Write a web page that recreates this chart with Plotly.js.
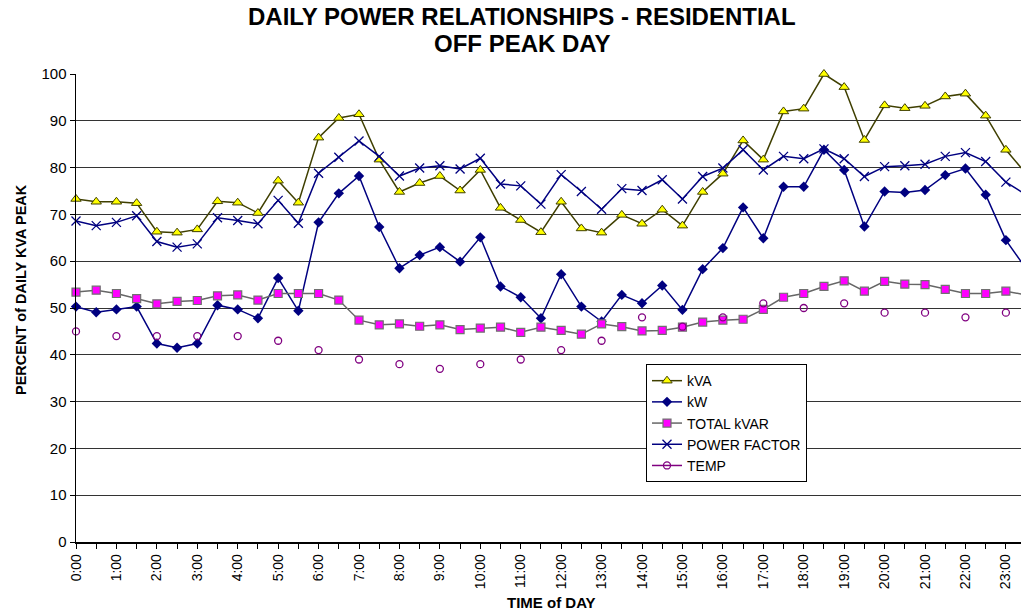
<!DOCTYPE html>
<html>
<head>
<meta charset="utf-8">
<script src="https://cdn.plot.ly/plotly-3.0.1.min.js"></script>
<style>html,body{margin:0;padding:0;background:#fff;}#chart{width:1021px;height:611px;}</style>
</head>
<body>
<div id="chart"></div>
<script>
// Half-hour time slots, 0:00 .. 23:30
const timeLabels = ["0:00","0:30","1:00","1:30","2:00","2:30","3:00","3:30","4:00","4:30","5:00","5:30",
  "6:00","6:30","7:00","7:30","8:00","8:30","9:00","9:30","10:00","10:30","11:00","11:30",
  "12:00","12:30","13:00","13:30","14:00","14:30","15:00","15:30","16:00","16:30","17:00","17:30",
  "18:00","18:30","19:00","19:30","20:00","20:30","21:00","21:30","22:00","22:30","23:00","23:30"];

const kVA = [73.3,72.7,72.7,72.4,66.3,66.1,66.8,72.8,72.5,70.3,77.2,72.5,
  86.4,90.6,91.4,81.7,74.8,76.7,78.2,75.1,79.5,71.4,68.8,66.2,
  72.7,67.0,66.1,69.9,68.0,71.0,67.6,74.8,78.7,85.8,81.7,92.0,
  92.6,100.0,97.2,85.9,93.3,92.7,93.2,95.2,95.8,91.1,83.8,78.7];

const kW = [50.3,49.1,49.7,50.3,42.4,41.5,42.4,50.6,49.7,47.8,56.4,49.4,
  68.3,74.5,78.2,67.3,58.5,61.3,63.0,59.9,65.1,54.6,52.3,47.8,
  57.2,50.3,47.1,52.8,51.0,54.8,49.6,58.3,62.8,71.5,64.9,75.9,
  75.9,83.8,79.5,67.4,74.9,74.7,75.2,78.4,79.8,74.2,64.5,58.4];

const totalKVAR = [53.4,53.8,53.1,52.0,50.9,51.4,51.6,52.6,52.8,51.7,53.1,53.1,
  53.1,51.7,47.4,46.4,46.6,46.1,46.4,45.4,45.7,45.9,44.8,45.9,
  45.2,44.4,46.6,46.0,45.1,45.2,45.9,47.0,47.4,47.6,49.7,52.3,
  53.1,54.6,55.8,53.6,55.7,55.1,55.0,54.0,53.1,53.1,53.6,52.8];

const powerFactor = [68.6,67.6,68.3,69.7,64.2,63.0,63.7,69.3,68.7,68.0,73.0,68.1,
  78.8,82.2,85.7,82.4,78.2,79.9,80.4,79.7,82.0,76.5,76.1,72.2,
  78.5,74.9,71.1,75.5,75.1,77.4,73.3,78.1,79.9,83.8,79.5,82.4,
  81.9,84.0,81.9,78.1,80.2,80.4,80.7,82.4,83.2,81.3,76.9,74.2];

// Temperature recorded hourly only (null at half hours)
const temp = [45,null,44,null,44,null,44,null,44,null,43,null,
  41,null,39,null,38,null,37,null,38,null,39,null,
  41,null,43,null,48,null,46,null,48,null,51,null,
  50,null,51,null,49,null,49,null,48,null,49,null];

const xs = timeLabels.map((_, i) => i * 0.5);
const tickText = timeLabels.map(t => t.endsWith(":00") ? t : "");

const FONT = "Arial, 'Liberation Sans', sans-serif";

const traces = [
  {name: "kVA", x: xs, y: kVA, mode: "lines+markers", cliponaxis: false,
   line: {color: "#3f3f00", width: 1.5},
   marker: {symbol: "triangle-up", size: 9, color: "#ffff00", line: {color: "#3f3f00", width: 1}}},
  {name: "kW", x: xs, y: kW, mode: "lines+markers", cliponaxis: false,
   line: {color: "#000080", width: 1.5},
   marker: {symbol: "diamond", size: 8, color: "#000080", line: {color: "#000080", width: 0}}},
  {name: "TOTAL kVAR", x: xs, y: totalKVAR, mode: "lines+markers", cliponaxis: false,
   line: {color: "#666666", width: 1.5},
   marker: {symbol: "square", size: 8, color: "#ff00ff", line: {color: "#707070", width: 1.2}}},
  {name: "POWER FACTOR", x: xs, y: powerFactor, mode: "lines+markers", cliponaxis: false,
   line: {color: "#000080", width: 1.5},
   marker: {symbol: "x-thin-open", size: 9, color: "#000080", line: {color: "#000080", width: 1.3}}},
  {name: "TEMP", x: xs, y: temp, mode: "lines+markers", connectgaps: false, cliponaxis: false,
   line: {color: "#800080", width: 1.5},
   marker: {symbol: "circle-open", size: 7, color: "#800080", line: {color: "#800080", width: 1.3}}}
];

const L = 76, R = 1021, T = 74.3, B = 541.7;
const px = v => (v - L) / (R - L);
const py = v => (B - v) / (B - T);

const layout = {
  width: 1021, height: 611,
  margin: {l: L, r: 0, t: T, b: 611 - B, pad: 0},
  paper_bgcolor: "#ffffff", plot_bgcolor: "#ffffff",
  font: {family: FONT, color: "#000", size: 12},
  showlegend: true,
  legend: {
    x: px(646), y: py(364), xanchor: "left", yanchor: "top",
    bgcolor: "#ffffff", bordercolor: "#000000", borderwidth: 1,
    font: {family: FONT, size: 14, color: "#000"},
    tracegroupgap: 0, itemwidth: 30
  },
  xaxis: {
    range: [0, (R - L) / 40.43],
    tickmode: "array", tickvals: xs, ticktext: tickText,
    tickangle: -90, ticks: "outside", ticklen: 5, tickcolor: "#000", tickwidth: 1,
    tickfont: {family: FONT, size: 14, color: "#000"},
    showgrid: false, zeroline: false,
    showline: true, linecolor: "#000", linewidth: 1.5,
    fixedrange: true
  },
  yaxis: {
    range: [0, 100], dtick: 10, tick0: 0,
    ticks: "outside", ticklen: 5, tickcolor: "#000",
    tickfont: {family: FONT, size: 15, color: "#000"},
    showgrid: true, gridcolor: "#333333", gridwidth: 1,
    zeroline: false, showline: true, linecolor: "#000", linewidth: 1.5,
    fixedrange: true
  },
  annotations: [
    {text: "<b>DAILY POWER RELATIONSHIPS - RESIDENTIAL</b>", xref: "paper", yref: "paper",
     x: px(522), y: py(17), xanchor: "center", yanchor: "middle", showarrow: false,
     font: {family: FONT, size: 24, color: "#000"}},
    {text: "<b>OFF PEAK DAY</b>", xref: "paper", yref: "paper",
     x: px(522), y: py(44), xanchor: "center", yanchor: "middle", showarrow: false,
     font: {family: FONT, size: 24, color: "#000"}},
    {text: "<b>PERCENT of DAILY KVA PEAK</b>", xref: "paper", yref: "paper",
     x: px(21), y: py(290), xanchor: "center", yanchor: "middle", showarrow: false, textangle: -90,
     font: {family: FONT, size: 14.5, color: "#000"}},
    {text: "<b>TIME of DAY</b>", xref: "paper", yref: "paper",
     x: px(551), y: py(602), xanchor: "center", yanchor: "middle", showarrow: false,
     font: {family: FONT, size: 15, color: "#000"}}
  ]
};

Plotly.newPlot("chart", traces, layout, {displayModeBar: false, staticPlot: true});
</script>
</body>
</html>
